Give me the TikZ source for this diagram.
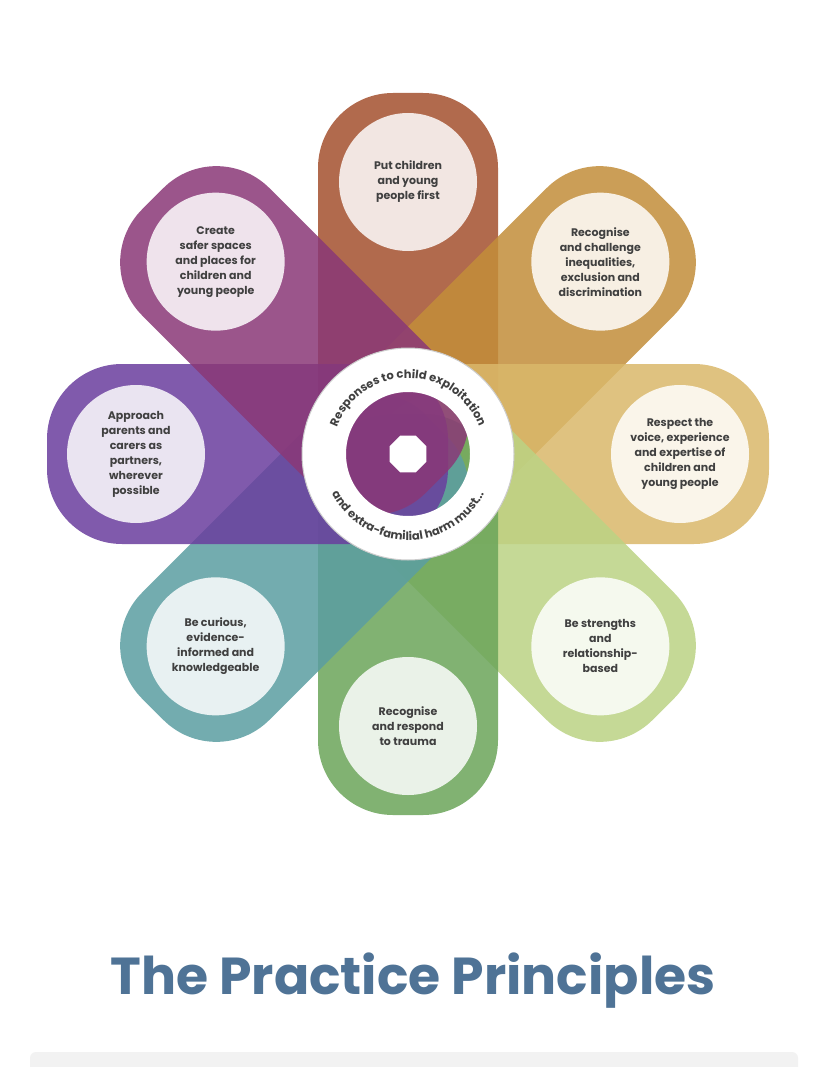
\documentclass[tikz,border=0pt]{standalone}
\usepackage{fontspec}
\setmainfont{Poppins}
\usetikzlibrary{decorations.text,shapes.geometric,calc}
\definecolor{c1}{HTML}{A4502E}
\definecolor{c2}{HTML}{C38E3A}
\definecolor{c3}{HTML}{DAB86A}
\definecolor{c4}{HTML}{BBD384}
\definecolor{c5}{HTML}{6BA55A}
\definecolor{c6}{HTML}{5B9EA2}
\definecolor{c7}{HTML}{6A3E9E}
\definecolor{c8}{HTML}{8A3877}
\definecolor{titlec}{HTML}{4F7396}
\tikzset{petal/.style={fill=#1,opacity=0.85,rounded corners=75pt},
 disc/.style={circle,minimum size=138pt,inner sep=0pt,fill=#1!14!white,align=center,
 font=\fontsize{11}{15}\selectfont\bfseries,text=black!75}}
\begin{document}
\begin{tikzpicture}[x=1pt,y=-1pt]
\useasboundingbox (0,0) rectangle (828,1067);
\fill[white] (0,0) rectangle (828,1067);
\coordinate (o) at (408,454);
\foreach \a/\c in {90/c1,45/c2,0/c3,-45/c4,-90/c5,-135/c6,180/c7,135/c8}{
  \begin{scope}[shift={(o)},rotate=\a]
  \fill[petal=\c] (-40,-90) rectangle (361,90);
  \end{scope}
}
\foreach \a/\c/\t [count=\i] in {
 90/c1/{Put children\\and young\\people first},
 45/c2/{Recognise\\and challenge\\inequalities,\\exclusion and\\discrimination},
 0/c3/{Respect the\\voice, experience\\and expertise of\\children and\\young people},
 -45/c4/{Be strengths\\and\\relationship-\\based},
 -90/c5/{Recognise\\and respond\\to trauma},
 -135/c6/{Be curious,\\evidence-\\informed and\\knowledgeable},
 180/c7/{Approach\\parents and\\carers as\\partners,\\wherever\\possible},
 135/c8/{Create\\safer spaces\\and places for\\children and\\young people}}{
  \node[disc=\c] (d\i) at ($(o)+(-\a:272)$) {\t};
}
\fill[white,even odd rule] (o) circle (106) (o) circle (62);
\draw[black!20,line width=1pt] (o) circle (106);
\node[regular polygon,regular polygon sides=8,fill=white,minimum size=40pt,inner sep=0pt] (oct) at (o) {};
\path[decorate,decoration={text along path,text align=center,
 text={|\fontsize{11.5}{12}\selectfont\bfseries\color{black!75}|Responses to child exploitation}}]
 ($(o)+(-160:76)$) arc[start angle=-160,end angle=-20,radius=76];
\path[decorate,decoration={text along path,text align=center,
 text={|\fontsize{11.5}{12}\selectfont\bfseries\color{black!75}|and extra-familial harm must...}}]
 ($(o)+(155:86)$) arc[start angle=155,end angle=25,radius=86];
\node[text=titlec,font=\fontsize{52}{58}\selectfont\bfseries] (title) at (413,981) {The Practice Principles};
\fill[black!5,rounded corners=6pt] (30,1052) rectangle (798,1075);
\end{tikzpicture}
\end{document}
